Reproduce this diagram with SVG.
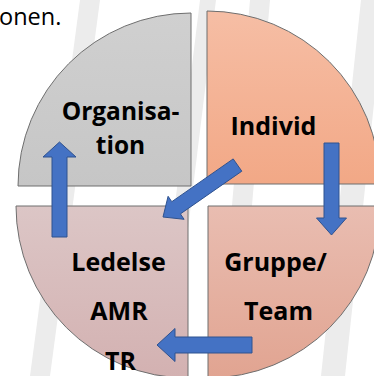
<svg xmlns="http://www.w3.org/2000/svg" width="374" height="376" viewBox="0 0 374 376">
<defs>
<linearGradient id="gTL" x1="0" y1="0" x2="0" y2="1"><stop offset="0" stop-color="#d0d0d0"/><stop offset="1" stop-color="#c6c6c6"/></linearGradient>
<linearGradient id="gTR" x1="0" y1="0" x2="0" y2="1"><stop offset="0" stop-color="#f6bea5"/><stop offset="1" stop-color="#f2a886"/></linearGradient>
<linearGradient id="gBL" x1="0" y1="0" x2="0" y2="1"><stop offset="0" stop-color="#dcc6c6"/><stop offset="1" stop-color="#d3b1b1"/></linearGradient>
<linearGradient id="gBR" x1="0" y1="0" x2="0" y2="1"><stop offset="0" stop-color="#e9bdb1"/><stop offset="1" stop-color="#e1a491"/></linearGradient>
</defs>
<style>
.q{stroke:#6e6e6e;stroke-width:1}
.lbl{font-family:"Open Sans","Liberation Sans",sans-serif;font-weight:bold;font-size:25px;fill:#000;text-anchor:middle}
.arr{fill:#4472c4;stroke:#2f528f;stroke-width:1;stroke-linejoin:miter}
.wm{fill:#ececec}
</style>
<rect width="374" height="376" fill="#ffffff"/>
<g id="watermark">
<polygon class="wm" points="80,0 100,0 50,376 30,376"/>
<polygon class="wm" points="200,0 216,0 170,376 154,376"/>
<polygon class="wm" points="250,0 270,0 237,376 217,376"/>
<polygon class="wm" points="361,0 385,0 345,376 321,376"/>
</g>
<text x="-1" y="25" font-family="'Open Sans','Liberation Sans',sans-serif" font-size="23.5" fill="#000">onen.</text>
<g id="organisation">
<path class="q" fill="url(#gTL)" d="M191,186 L18,186 A173,173 0 0 1 191,13 Z"/>
<text class="lbl" x="120.5" y="120" font-size="24.5" style="font-size:24.5px">Organisa-</text>
<text class="lbl" x="120.5" y="154" style="font-size:24.5px">tion</text>
</g>
<g id="individ">
<path class="q" fill="url(#gTR)" d="M207,184 L207,11 A173,173 0 0 1 380,184 Z"/>
<text class="lbl" x="273.5" y="135">Individ</text>
</g>
<g id="ledelse">
<path class="q" fill="url(#gBL)" d="M188,206 L188,378 A172,172 0 0 1 16,206 Z"/>
<text class="lbl" x="118.5" y="271">Ledelse</text>
<text class="lbl" x="119" y="320">AMR</text>
<text class="lbl" x="120.5" y="370">TR</text>
</g>
<g id="gruppe">
<path class="q" fill="url(#gBR)" d="M208,206 L380,206 A172,172 0 0 1 208,378 Z"/>
<text class="lbl" x="275.5" y="271">Gruppe/</text>
<text class="lbl" x="278.5" y="320">Team</text>
</g>
<g id="connectors">
<polygon class="arr" points="52,237 52,157 43,157 59.5,142 76,157 67,157 67,237"/>
<polygon class="arr" points="324,143 339,143 339,218 346.5,218 331.5,235 316.5,218 324,218"/>
<polygon class="arr" points="241.8,171.2 180.4,213.9 184.1,219.3 163,217 168.1,196.3 171.8,201.7 233.2,158.9"/>
<polygon class="arr" points="252,337 252,353 175,353 175,361.5 157,345 175,328.5 175,337"/>
</g>
</svg>
